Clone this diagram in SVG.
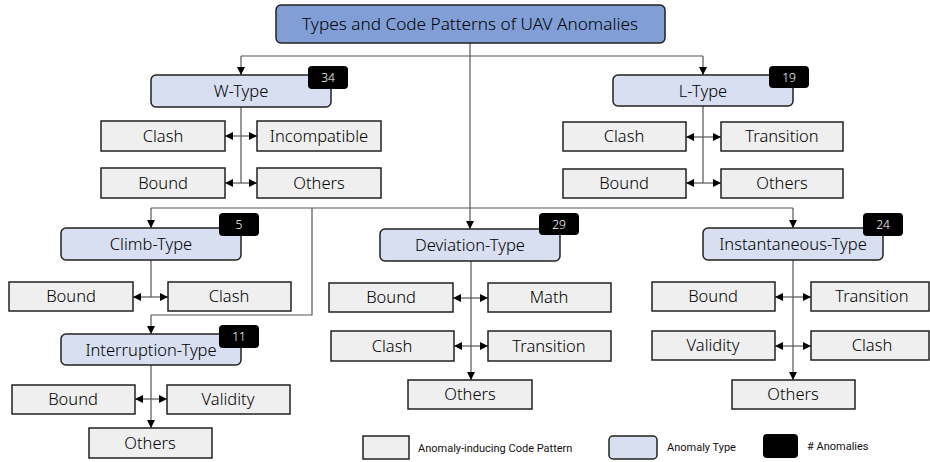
<svg xmlns="http://www.w3.org/2000/svg" width="930" height="462" viewBox="0 0 930 462">
  <defs>
    <marker id="arr" markerUnits="userSpaceOnUse" markerWidth="8" markerHeight="8" refX="8" refY="4" orient="auto">
      <path d="M0,0 L8,4 L0,8 z" fill="#000"/>
    </marker>
    <style>
      .title { fill:#819FD6; stroke:#222; stroke-width:1.5; }
      .type { fill:#D7DFF0; stroke:#222; stroke-width:1.5; }
      .pat { fill:#EFEFEF; stroke:#222; stroke-width:1.5; }
      .badge { fill:#000; }
      .lbl { font-family:"Noto Sans","DejaVu Sans",sans-serif; font-weight:300; font-size:16.5px; fill:#000; text-anchor:middle; }
      .ttl { font-family:"Noto Sans","DejaVu Sans",sans-serif; font-weight:300; font-size:17.2px; fill:#000; text-anchor:middle; }
      .num { font-family:"Noto Sans","DejaVu Sans",sans-serif; font-weight:300; font-size:12px; fill:#fff; text-anchor:middle; }
      .leg { font-family:Roboto,"Noto Sans",sans-serif; font-size:11px; fill:#111; }
      .ln { fill:none; stroke:#555; stroke-width:1.2; }
      .ar { fill:none; stroke:#555; stroke-width:1.2; marker-end:url(#arr); }
    </style>
  </defs>

  <!-- connectors -->
  <g id="connectors">
    <!-- root fan-out -->
    <line class="ln" x1="470" y1="43" x2="470" y2="208"/>
    <line class="ln" x1="241" y1="56" x2="703" y2="56"/>
    <line class="ar" x1="241" y1="56" x2="241" y2="75"/>
    <line class="ar" x1="703" y1="56" x2="703" y2="75"/>
    <line class="ln" x1="151" y1="208" x2="793" y2="208"/>
    <line class="ar" x1="151" y1="208" x2="151" y2="228"/>
    <line class="ar" x1="470" y1="208" x2="470" y2="229"/>
    <line class="ar" x1="793" y1="208" x2="793" y2="228"/>
    <polyline class="ln" points="312,208 312,315 151,315"/>
    <line class="ar" x1="151" y1="315" x2="151" y2="334"/>

    <!-- W-Type -->
    <line class="ln" x1="241" y1="107" x2="241" y2="183"/>
    <line class="ar" x1="241" y1="136" x2="225" y2="136"/>
    <line class="ar" x1="241" y1="136" x2="257" y2="136"/>
    <line class="ar" x1="241" y1="183" x2="225" y2="183"/>
    <line class="ar" x1="241" y1="183" x2="257" y2="183"/>

    <!-- L-Type -->
    <line class="ln" x1="703" y1="106" x2="703" y2="183"/>
    <line class="ar" x1="703" y1="137" x2="686" y2="137"/>
    <line class="ar" x1="703" y1="137" x2="721" y2="137"/>
    <line class="ar" x1="703" y1="183" x2="686" y2="183"/>
    <line class="ar" x1="703" y1="183" x2="721" y2="183"/>

    <!-- Climb-Type -->
    <line class="ln" x1="151" y1="260" x2="151" y2="297"/>
    <line class="ar" x1="151" y1="297" x2="133" y2="297"/>
    <line class="ar" x1="151" y1="297" x2="168" y2="297"/>

    <!-- Deviation-Type -->
    <line class="ar" x1="471" y1="261" x2="471" y2="380"/>
    <line class="ar" x1="471" y1="298" x2="453" y2="298"/>
    <line class="ar" x1="471" y1="298" x2="488" y2="298"/>
    <line class="ar" x1="471" y1="346" x2="454" y2="346"/>
    <line class="ar" x1="471" y1="346" x2="488" y2="346"/>

    <!-- Instantaneous-Type -->
    <line class="ar" x1="793" y1="260" x2="793" y2="380"/>
    <line class="ar" x1="793" y1="297" x2="775" y2="297"/>
    <line class="ar" x1="793" y1="297" x2="811" y2="297"/>
    <line class="ar" x1="793" y1="346" x2="775" y2="346"/>
    <line class="ar" x1="793" y1="346" x2="811" y2="346"/>

    <!-- Interruption-Type -->
    <line class="ar" x1="151" y1="365" x2="151" y2="428"/>
    <line class="ar" x1="151" y1="399" x2="135" y2="399"/>
    <line class="ar" x1="151" y1="399" x2="167" y2="399"/>
  </g>

  <!-- root -->
  <g id="root">
    <rect class="title" x="276" y="5" width="389" height="38" rx="5"/>
    <text class="ttl" x="470" y="30">Types and Code Patterns of UAV Anomalies</text>
  </g>

  <!-- anomaly types -->
  <g id="w-type">
    <rect class="type" x="151" y="75" width="180" height="32" rx="5"/>
    <text class="lbl" x="241" y="97">W-Type</text>
    <rect class="badge" x="308" y="66" width="40" height="23" rx="4"/>
    <text class="num" x="328" y="82">34</text>
  </g>
  <g id="l-type">
    <rect class="type" x="613" y="75" width="180" height="31" rx="5"/>
    <text class="lbl" x="703" y="97">L-Type</text>
    <rect class="badge" x="769" y="66" width="40" height="22" rx="4"/>
    <text class="num" x="789" y="82">19</text>
  </g>
  <g id="climb-type">
    <rect class="type" x="61" y="228" width="180" height="32" rx="5"/>
    <text class="lbl" x="151" y="250">Climb-Type</text>
    <rect class="badge" x="219" y="213" width="40" height="23" rx="4"/>
    <text class="num" x="239" y="229">5</text>
  </g>
  <g id="deviation-type">
    <rect class="type" x="380" y="229" width="180" height="32" rx="5"/>
    <text class="lbl" x="470" y="251">Deviation-Type</text>
    <rect class="badge" x="539" y="213" width="40" height="22" rx="4"/>
    <text class="num" x="559" y="229">29</text>
  </g>
  <g id="instantaneous-type">
    <rect class="type" x="703" y="228" width="180" height="32" rx="5"/>
    <text class="lbl" x="793" y="250">Instantaneous-Type</text>
    <rect class="badge" x="863" y="213" width="40" height="23" rx="4"/>
    <text class="num" x="883" y="229">24</text>
  </g>
  <g id="interruption-type">
    <rect class="type" x="61" y="334" width="180" height="31" rx="5"/>
    <rect class="badge" x="219" y="325" width="40" height="23" rx="4"/>
    <text class="num" x="239" y="341">11</text>
    <text class="lbl" x="151" y="356">Interruption-Type</text>
  </g>

  <!-- code patterns: W-Type -->
  <g id="w-clash"><rect class="pat" x="101" y="121" width="124" height="30"/><text class="lbl" x="163" y="142">Clash</text></g>
  <g id="w-incompatible"><rect class="pat" x="257" y="121" width="124" height="30"/><text class="lbl" x="319" y="142">Incompatible</text></g>
  <g id="w-bound"><rect class="pat" x="101" y="168" width="124" height="30"/><text class="lbl" x="163" y="189">Bound</text></g>
  <g id="w-others"><rect class="pat" x="257" y="168" width="124" height="30"/><text class="lbl" x="319" y="189">Others</text></g>

  <!-- code patterns: L-Type -->
  <g id="l-clash"><rect class="pat" x="563" y="122" width="123" height="29"/><text class="lbl" x="624" y="142">Clash</text></g>
  <g id="l-transition"><rect class="pat" x="721" y="122" width="122" height="29"/><text class="lbl" x="782" y="142">Transition</text></g>
  <g id="l-bound"><rect class="pat" x="563" y="169" width="123" height="29"/><text class="lbl" x="624" y="189">Bound</text></g>
  <g id="l-others"><rect class="pat" x="721" y="169" width="122" height="29"/><text class="lbl" x="782" y="189">Others</text></g>

  <!-- code patterns: Climb-Type -->
  <g id="c-bound"><rect class="pat" x="9" y="282" width="124" height="29"/><text class="lbl" x="71" y="302">Bound</text></g>
  <g id="c-clash"><rect class="pat" x="168" y="282" width="123" height="29"/><text class="lbl" x="229" y="302">Clash</text></g>

  <!-- code patterns: Deviation-Type -->
  <g id="d-bound"><rect class="pat" x="329" y="283" width="124" height="29"/><text class="lbl" x="391" y="303">Bound</text></g>
  <g id="d-math"><rect class="pat" x="488" y="283" width="123" height="29"/><text class="lbl" x="549" y="303">Math</text></g>
  <g id="d-clash"><rect class="pat" x="331" y="331" width="123" height="30"/><text class="lbl" x="392" y="352">Clash</text></g>
  <g id="d-transition"><rect class="pat" x="488" y="331" width="123" height="30"/><text class="lbl" x="549" y="352">Transition</text></g>
  <g id="d-others"><rect class="pat" x="408" y="380" width="124" height="29"/><text class="lbl" x="470" y="400">Others</text></g>

  <!-- code patterns: Instantaneous-Type -->
  <g id="i-bound"><rect class="pat" x="652" y="282" width="123" height="29"/><text class="lbl" x="713" y="302">Bound</text></g>
  <g id="i-transition"><rect class="pat" x="811" y="282" width="118" height="29"/><text class="lbl" x="872" y="302">Transition</text></g>
  <g id="i-validity"><rect class="pat" x="652" y="331" width="123" height="29"/><text class="lbl" x="713" y="351">Validity</text></g>
  <g id="i-clash"><rect class="pat" x="811" y="331" width="118" height="29"/><text class="lbl" x="872" y="351">Clash</text></g>
  <g id="i-others"><rect class="pat" x="732" y="380" width="123" height="29"/><text class="lbl" x="793" y="400">Others</text></g>

  <!-- code patterns: Interruption-Type -->
  <g id="n-bound"><rect class="pat" x="12" y="385" width="123" height="29"/><text class="lbl" x="73" y="405">Bound</text></g>
  <g id="n-validity"><rect class="pat" x="167" y="385" width="123" height="29"/><text class="lbl" x="228" y="405">Validity</text></g>
  <g id="n-others"><rect class="pat" x="89" y="428" width="123" height="30"/><text class="lbl" x="150" y="449">Others</text></g>

  <!-- legend -->
  <g id="legend">
    <rect class="pat" x="363" y="436" width="46" height="23"/>
    <text class="leg" x="418" y="452">Anomaly-inducing Code  Pattern</text>
    <rect class="type" x="609" y="436" width="48" height="23" rx="4"/>
    <text class="leg" x="667" y="451">Anomaly Type</text>
    <rect class="badge" x="763" y="434" width="35" height="24" rx="4"/>
    <text class="leg" x="807" y="450"># Anomalies</text>
  </g>
</svg>
